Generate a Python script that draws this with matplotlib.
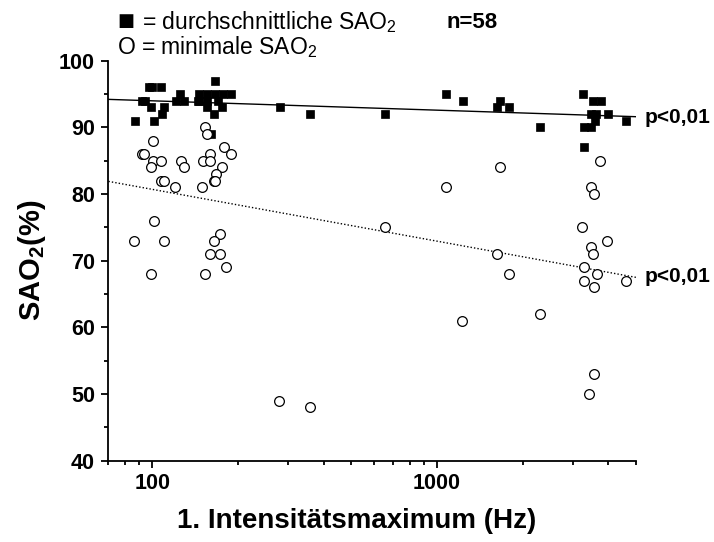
import matplotlib
matplotlib.use("Agg")
import matplotlib.pyplot as plt
import numpy as np
from matplotlib.ticker import FixedLocator, NullFormatter

plt.rcParams["font.family"] = ["Liberation Sans", "DejaVu Sans"]
plt.rcParams["mathtext.default"] = "regular"

# durchschnittliche SAO2 (filled squares)
mean_hz = [87, 92, 94, 97, 100, 107, 99, 110, 108, 101, 125, 121, 129, 145,
           166, 146, 156, 166, 177, 189, 146, 155, 170, 156, 175, 165, 160,
           280, 357, 657, 1076, 1231, 1663, 1628, 1785, 2296,
           3249, 3524, 3767, 3480, 3620, 3985, 4618, 3290, 3480, 3575, 3275]
mean_sao = [91, 94, 94, 96, 96, 96, 93, 93, 92, 91, 95, 94, 94, 94,
            97, 95, 95, 95, 95, 95, 94, 94, 94, 93, 93, 92, 89,
            93, 92, 92, 95, 94, 94, 93, 93, 90,
            95, 94, 94, 92, 92, 92, 91, 90, 90, 91, 87]

# minimale SAO2 (open circles)
min_hz = [153, 156, 100.6, 92, 93, 159, 178, 188, 100.6, 107, 126, 150, 159,
          98.4, 129, 176, 167, 107, 110, 165, 166, 120, 149,
          101.4, 86.4, 110, 172, 165, 159, 172, 181, 98.4, 153,
          278, 357, 657, 1076, 1663, 1628, 1785, 1224, 2296,
          3740, 3480, 3560, 3230, 3960, 3480, 3525, 3290, 3640, 3290, 3560,
          4618, 3560, 3420]
min_sao = [90, 89, 88, 86, 86, 86, 87, 86, 85, 85, 85, 85, 85,
           84, 84, 84, 83, 82, 82, 82, 82, 81, 81,
           76, 73, 73, 74, 73, 71, 71, 69, 68, 68,
           49, 48, 75, 81, 84, 71, 68, 61, 62,
           85, 81, 80, 75, 73, 72, 71, 69, 68, 67, 66,
           67, 53, 50]

# regression lines (ends at x = 70 and 5000)
fit_x = [70, 5000]
fit_mean = [94.2, 91.6]
fit_min = [81.9, 67.5]

fig = plt.figure(figsize=(7.14, 5.42), dpi=100)
ax = fig.add_axes([0.1506, 0.15, 0.7402, 0.738])

ax.plot(fit_x, fit_mean, color="black", lw=1.0, zorder=2)
ax.plot(fit_x, fit_min, color="black", lw=1.0, ls=(0, (1, 1.5)), zorder=2)
ax.plot(mean_hz, mean_sao, ls="none", marker="s", ms=5.4, mfc="black",
        mec="black", mew=0.5, zorder=3)
ax.plot(min_hz, min_sao, ls="none", marker="o", ms=7.0, mfc="white",
        mec="black", mew=0.9, zorder=4)

ax.set_xscale("log")
ax.set_xlim(69.5, 5000)
ax.set_ylim(40, 100)

ax.xaxis.set_major_locator(FixedLocator([100, 1000]))
ax.xaxis.set_minor_locator(FixedLocator([70, 80, 90, 200, 300, 400, 500, 600, 700,
                                         800, 900, 2000, 3000, 4000, 5000]))
ax.xaxis.set_minor_formatter(NullFormatter())
ax.set_xticklabels(["100", "1000"])
ax.set_yticks(np.arange(40, 101, 10))
ax.set_yticks(np.arange(45, 100, 10), minor=True)

for s in ("top", "right"):
    ax.spines[s].set_visible(False)
for s in ("left", "bottom"):
    ax.spines[s].set_linewidth(1.3)

ax.tick_params(which="major", direction="out", length=5, width=1.3,
               labelsize=15.5, pad=4)
ax.tick_params(which="minor", direction="out", length=3, width=1.3)
for lab in ax.get_xticklabels() + ax.get_yticklabels():
    lab.set_fontweight("bold")

ax.set_xlabel("1. Intensitätsmaximum (Hz)", fontsize=20, fontweight="bold")
ax.xaxis.set_label_coords(0.472, -0.118)
ax.set_ylabel("SAO$_2$(%)", fontsize=21, fontweight="bold", labelpad=8)

fig.text(645 / 714, 1 - 118 / 542, "p<0,01", fontsize=15, fontweight="bold",
         va="center", ha="left")
fig.text(645 / 714, 1 - 277 / 542, "p<0,01", fontsize=15, fontweight="bold",
         va="center", ha="left")

fig.text(117 / 714, 1 - 21 / 542, "■", fontsize=13, va="center", ha="left",
         family="DejaVu Sans")
fig.text(142 / 714, 1 - 22 / 542, "= durchschnittliche SAO$_2$", fontsize=16.5,
         va="center", ha="left")
fig.text(117 / 714, 1 - 47 / 542, "O = minimale SAO$_2$", fontsize=16.5,
         va="center", ha="left")
fig.text(447 / 714, 1 - 22 / 542, "n=58", fontsize=16, fontweight="bold",
         va="center", ha="left")

fig.savefig("out.png", dpi=100)
